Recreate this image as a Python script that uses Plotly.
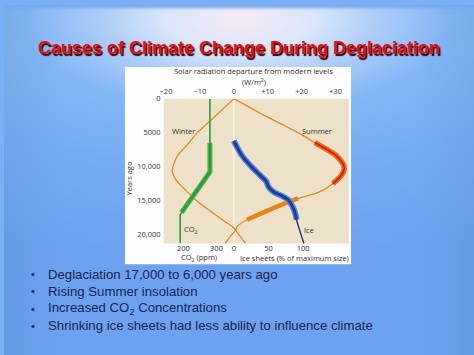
import base64
import struct
import zlib

import numpy as np
import plotly.graph_objects as go

# ---------------- data ----------------
# Solar radiation departure (W/m2) vs years ago
summer_years = [0, 2200, 4000, 5300, 6470, 7440, 8400, 9620, 10350, 11310, 12530,
                13740, 14710, 15920, 17850, 18820, 19400, 20300, 21370]
summer_wm2 = [0, 8, 15, 20, 23.9, 27.3, 30.2, 32.2, 32.6, 31.7, 29.2,
              25.3, 19.0, 12.7, 3.9, 1.0, 0.5, -1.0, -2.6]

winter_years = [0, 2600, 5260, 6720, 8400, 9500, 10600, 11500, 12280, 13600,
                14940, 16100, 17120, 18100, 19070, 20200, 21370]
winter_wm2 = [0, -5.5, -11.2, -13.6, -16.6, -17.6, -18.2, -17.6, -16.6, -14.0,
              -11.2, -8.3, -5.4, -2.7, 0, 1.7, 3.5]

# CO2 (ppm)
co2_years = [0, 6500, 10800, 17100, 21370]
co2_ppm = [280, 280, 280, 190, 190]
co2_band_years = [6500, 10800, 16800]
co2_band_ppm = [280, 280, 194]

# Ice sheets (% of maximum size)
ice_years = [6220, 8400, 10100, 11310, 12180, 13010, 13740, 14320, 14940, 15920,
             17120, 17850, 21370]
ice_pct = [0, 11.9, 26.1, 38, 46.6, 50, 57.1, 69, 78.6, 84.7, 89, 90.4, 101]
ice_band_count = 12  # thick part covers the first 12 points

solar_ticks = [-20, -10, 0, 10, 20, 30]
solar_ticktext = ["\u221220", "\u221210", "0", "+10", "+20", "+30"]
co2_ticks = [200, 300]
ice_ticks = [0, 50, 100]
year_ticks = [0, 5000, 10000, 15000, 20000]
year_ticktext = ["0", "5000", "10,000", "15,000", "20,000"]

bullets = [
    "Deglaciation 17,000 to 6,000 years ago",
    "Rising Summer insolation",
    "Increased CO<sub>2</sub> Concentrations",
    "Shrinking ice sheets had less ability to influence climate",
]

W, H = 474, 355

# ---------------- background gradient image ----------------
def png_uri(rgb):
    h, w, _ = rgb.shape
    raw = b"".join(b"\x00" + rgb[r].tobytes() for r in range(h))

    def chunk(t, d):
        return struct.pack(">I", len(d)) + t + d + struct.pack(">I", zlib.crc32(t + d) & 0xffffffff)

    png = (b"\x89PNG\r\n\x1a\n"
           + chunk(b"IHDR", struct.pack(">IIBBBBB", w, h, 8, 2, 0, 0, 0))
           + chunk(b"IDAT", zlib.compress(raw, 9))
           + chunk(b"IEND", b""))
    return "data:image/png;base64," + base64.b64encode(png).decode()


yy, xx = np.mgrid[0:H, 0:W].astype(float)
t = np.sqrt(((xx - 237) / 215.0) ** 2 + ((yy - 14) / 95.0) ** 2)
stops_t = [0.0, 0.35, 0.65, 1.0, 1.6, 2.6]
stops_c = np.array([
    [246, 234, 246],
    [218, 231, 250],
    [172, 205, 248],
    [132, 183, 246],
    [119, 172, 244],
    [108, 162, 240],
], dtype=float)
img = np.zeros((H, W, 3))
for c in range(3):
    img[..., c] = np.interp(t, stops_t, stops_c[:, c])
# side vignette
edge = np.clip(1 - np.minimum(xx, W - 1 - xx) / 60.0, 0, 1)
img = img * (1 - 0.04 * edge[..., None])
# slightly darker top strip
top = np.clip(1 - yy / 5.0, 0, 1)
img = img * (1 - top[..., None]) + np.array([120, 168, 240]) * top[..., None]
img = np.clip(img, 0, 255).astype(np.uint8)
bg_uri = png_uri(img)

# ---------------- layout geometry (pixels) ----------------
PX0, PX1, PY0, PY1 = 161, 348, 95, 242


def px(x):
    return x / W


def py(y):
    return 1 - y / H


fig = go.Figure()

orange = "#e08a22"

# summer & winter thin curves
fig.add_trace(go.Scatter(x=winter_wm2, y=winter_years, mode="lines", line=dict(color=orange, width=1.3, shape="spline"), xaxis="x", yaxis="y"))
fig.add_trace(go.Scatter(x=summer_wm2, y=summer_years, mode="lines", line=dict(color=orange, width=1.3, shape="spline"), xaxis="x", yaxis="y"))
# summer thick bands
fig.add_trace(go.Scatter(x=summer_wm2[4:11], y=summer_years[4:11], mode="lines", line=dict(color="#ee6a1e", width=5.5, shape="spline"), xaxis="x", yaxis="y"))
fig.add_trace(go.Scatter(x=summer_wm2[4:11], y=summer_years[4:11], mode="lines", line=dict(color="#cc2410", width=2, shape="spline"), xaxis="x", yaxis="y"))
fig.add_trace(go.Scatter(x=summer_wm2[12:15], y=summer_years[12:15], mode="lines", line=dict(color="#e8841c", width=4.5, shape="spline"), xaxis="x", yaxis="y"))

# CO2
fig.add_trace(go.Scatter(x=co2_ppm, y=co2_years, mode="lines", line=dict(color="#2b9b40", width=1.6), xaxis="x2", yaxis="y"))
fig.add_trace(go.Scatter(x=co2_band_ppm, y=co2_band_years, mode="lines", line=dict(color="#48b250", width=5), xaxis="x2", yaxis="y"))
fig.add_trace(go.Scatter(x=co2_band_ppm, y=co2_band_years, mode="lines", line=dict(color="#2a9a3c", width=2), xaxis="x2", yaxis="y"))

# Ice
fig.add_trace(go.Scatter(x=ice_pct, y=ice_years, mode="lines", line=dict(color="#1b2a7a", width=1.3, shape="spline"), xaxis="x3", yaxis="y"))
fig.add_trace(go.Scatter(x=ice_pct[:ice_band_count], y=ice_years[:ice_band_count], mode="lines", line=dict(color="#5b86d6", width=6, shape="spline"), xaxis="x3", yaxis="y"))
fig.add_trace(go.Scatter(x=ice_pct[:ice_band_count], y=ice_years[:ice_band_count], mode="lines", line=dict(color="#1d3c9c", width=3, shape="spline"), xaxis="x3", yaxis="y"))

tickfont = dict(family="Open Sans", size=7.5, color="#333333")
xdom = [px(PX0), px(PX1)]
ydom = [py(PY1), py(PY0)]

fig.update_layout(
    width=W, height=H,
    margin=dict(l=0, r=0, t=0, b=0),
    paper_bgcolor="#7cb0f5",
    plot_bgcolor="rgba(0,0,0,0)",
    showlegend=False,
    hovermode=False,
    xaxis=dict(domain=xdom, anchor="y", side="top", range=[-20.7, 34.0],
               tickvals=solar_ticks, ticktext=solar_ticktext, ticks="", ticklabelstandoff=2,
               showgrid=False, zeroline=False, showline=False, tickfont=tickfont, fixedrange=True),
    xaxis2=dict(overlaying="x", anchor="y", side="bottom", range=[140, 701],
                tickvals=co2_ticks, ticks="", showgrid=False, zeroline=False, showline=False,
                ticklabelstandoff=-1, tickfont=tickfont, fixedrange=True),
    xaxis3=dict(overlaying="x", anchor="y", side="bottom", range=[-101, 166],
                tickvals=ice_ticks, ticks="", showgrid=False, zeroline=False, showline=False,
                ticklabelstandoff=-1, tickfont=tickfont, fixedrange=True),
    yaxis=dict(domain=ydom, anchor="x", range=[21370, 0], tickvals=year_ticks,
               ticktext=year_ticktext, ticks="", showgrid=False, zeroline=False,
               ticklabelstandoff=2, showline=False, tickfont=tickfont, fixedrange=True),
    images=[dict(source=bg_uri, xref="paper", yref="paper", x=0, y=1, sizex=1, sizey=1,
                 xanchor="left", yanchor="top", sizing="stretch", layer="below")],
    shapes=[
        dict(type="rect", xref="paper", yref="paper", x0=px(122), x1=px(350), y0=py(263), y1=py(63),
             fillcolor="#fdfdfd", line=dict(width=0), layer="below"),
        dict(type="rect", xref="paper", yref="paper", x0=px(PX0), x1=px(PX1), y0=py(PY1), y1=py(PY0),
             fillcolor="#eee1c9", line=dict(width=0), layer="below"),
        dict(type="line", xref="x", yref="paper", x0=0, x1=0, y0=py(PY1), y1=py(PY0),
             line=dict(color="#f8f2e8", width=1.5), layer="below"),
    ],
)

ann = []
chart_font = dict(family="Open Sans", size=7.5, color="#333333")


def add(text, x, y, xref="paper", yref="paper", font=chart_font, xanchor="center", **kw):
    ann.append(dict(text=text, x=x, y=y, xref=xref, yref=yref, showarrow=False,
                    xanchor=xanchor, yanchor="middle", font=font, **kw))


add("Solar radiation departure from modern levels", px(252), py(67))
add("(W/m<sup>2</sup>)", px(252), py(78))
add("CO<sub>2</sub> (ppm)", px(197), py(256.5))
add("Ice sheets (% of maximum size)", px(293), py(256.5))
add("Years ago", px(126), py(176), textangle=-90)
add("Winter", -14.8, 4730, xref="x", yref="y")
add("Summer", 24.4, 4730, xref="x", yref="y")
add("CO<sub>2</sub>", 222, 19300, xref="x2", yref="y")
add("Ice", 108, 19400, xref="x3", yref="y")

# slide title
add("<b>Causes of Climate Change During Deglaciation</b>", px(237), py(44),
    font=dict(family="Liberation Sans", size=18, color="#e0101c",
              shadow="1.5px 1.5px 1px #2a0000"))

bullet_y = [273, 290.5, 308, 325.5]
bfont_dot = dict(family="Liberation Sans", size=11, color="#1c2350")
bfont = dict(family="Liberation Sans", size=13.2, color="#1c2350")
for txt, yv in zip(bullets, bullet_y):
    add("\u2022", px(29), py(yv), font=bfont_dot)
    add(txt, px(42), py(yv), font=bfont, xanchor="left")

fig.update_layout(annotations=ann)

fig.write_html("out.html", config={"displayModeBar": False},
               post_script="document.body.style.margin='0';")
